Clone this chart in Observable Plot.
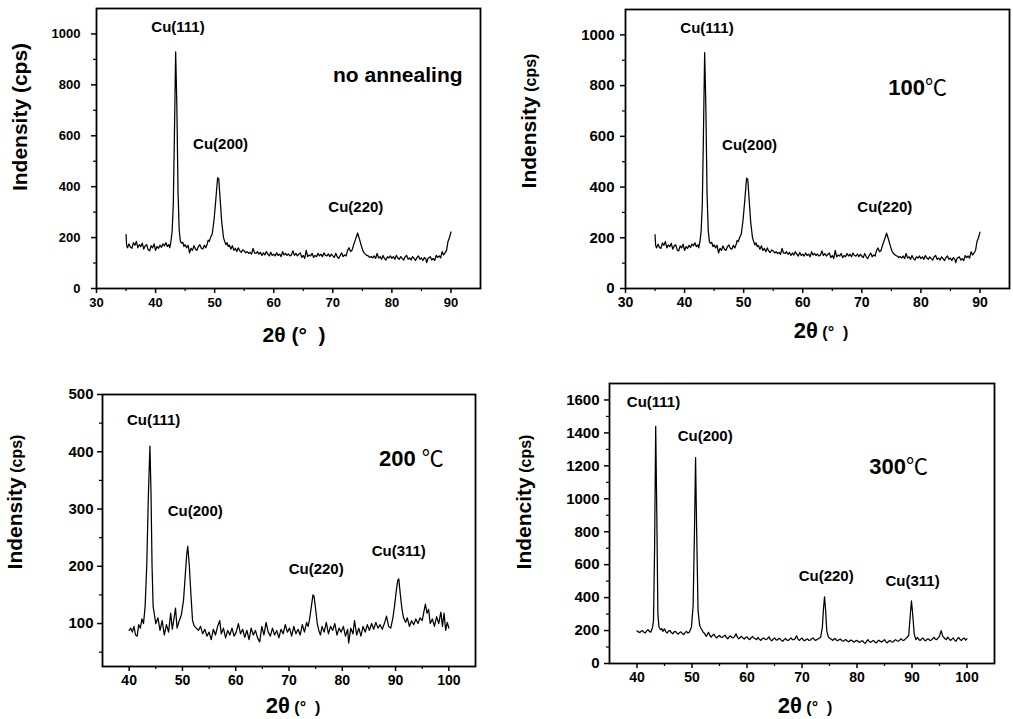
<!DOCTYPE html>
<html><head><meta charset="utf-8">
<script src="https://cdn.jsdelivr.net/npm/d3@7"></script>
<script src="https://cdn.jsdelivr.net/npm/@observablehq/plot@0.6"></script>
<style>
body{margin:0;background:#fff;}
#wrap{position:relative;width:1013px;height:719px;overflow:hidden;font-family:"Liberation Sans",Arial,sans-serif;}
#wrap svg{position:absolute;}
</style></head><body><div id="wrap"></div>
<script>
// 2θ (°), intensity (cps) — as-deposited film; the 100℃ scan is the same trace
const patternNoAnneal = [
[35,212],[35.1,170],[35.25,160],[35.5,175],[35.75,162],[36,158],[36.25,180],[36.5,170],[36.75,185],[37,160],
[37.25,172],[37.5,165],[37.75,178],[38,155],[38.25,168],[38.5,172],[38.75,152],[39,148],[39.25,168],[39.5,160],
[39.75,175],[40,150],[40.25,165],[40.5,158],[40.75,170],[41,162],[41.25,175],[41.5,168],[41.75,180],[42,165],
[42.25,172],[42.4,160],[42.6,185],[42.8,225],[43,330],[43.2,620],[43.4,930],[43.6,720],[43.8,380],[44,230],
[44.2,185],[44.4,178],[44.6,182],[44.8,165],[45,172],[45.25,160],[45.5,170],[45.75,140],[46,158],[46.25,150],
[46.5,168],[46.75,155],[47,150],[47.25,165],[47.5,172],[47.75,158],[48,155],[48.25,170],[48.5,160],[48.75,175],
[48.9,190],[49.1,185],[49.3,200],[49.6,215],[49.9,270],[50.2,350],[50.5,435],[50.7,430],[50.9,360],[51.2,260],
[51.5,200],[51.7,185],[51.9,172],[52.1,180],[52.3,165],[52.5,170],[52.75,155],[53,168],[53.25,150],[53.5,158],
[53.75,145],[54,160],[54.25,148],[54.5,142],[54.75,152],[55,148],[55.25,140],[55.5,145],[55.75,138],[56,142],
[56.25,135],[56.5,158],[56.75,140],[57,138],[57.25,145],[57.5,135],[57.75,142],[58,130],[58.25,140],[58.5,132],
[58.75,145],[59,135],[59.25,128],[59.5,142],[59.75,130],[60,135],[60.25,128],[60.5,140],[60.75,130],[61,135],
[61.25,125],[61.5,145],[61.75,132],[62,138],[62.25,130],[62.5,136],[62.75,128],[63,132],[63.25,148],[63.5,130],
[63.75,138],[64,128],[64.25,135],[64.5,140],[64.75,122],[65,130],[65.25,118],[65.5,150],[65.75,125],[66,132],
[66.25,128],[66.5,138],[66.75,122],[67,130],[67.25,125],[67.5,138],[67.75,128],[68,135],[68.25,125],[68.5,140],
[68.75,130],[69,128],[69.25,136],[69.5,125],[69.75,135],[70,128],[70.25,122],[70.5,138],[70.75,125],[71,118],
[71.25,130],[71.5,140],[71.75,125],[72,132],[72.25,128],[72.5,150],[72.75,160],[73,145],[73.25,150],[73.5,170],
[73.8,190],[74.2,218],[74.5,195],[74.8,170],[75.1,148],[75.3,140],[75.5,135],[75.75,130],[76,128],[76.25,122],
[76.5,126],[76.75,120],[77,128],[77.25,118],[77.5,138],[77.75,120],[78,125],[78.25,115],[78.5,130],[78.75,118],
[79,112],[79.25,125],[79.5,120],[79.75,128],[80,118],[80.25,125],[80.5,115],[80.75,130],[81,120],[81.25,115],
[81.5,125],[81.75,118],[82,112],[82.25,125],[82.5,130],[82.75,115],[83,120],[83.25,112],[83.5,125],[83.75,118],
[84,110],[84.25,122],[84.5,128],[84.75,115],[85,120],[85.25,110],[85.5,122],[85.75,115],[85.9,102],[86.1,118],
[86.5,125],[86.75,112],[87,118],[87.25,110],[87.5,130],[87.75,122],[88,128],[88.25,120],[88.5,145],[88.75,132],
[89,140],[89.25,150],[89.5,185],[89.75,200],[90,222]
];
const pattern200 = [
[40,88],[40.3,92],[40.6,85],[40.9,95],[41.2,80],[41.5,78],[41.8,98],[42.1,92],[42.4,108],[42.7,100],[43,130],
[43.3,200],[43.6,320],[43.9,410],[44.1,330],[44.3,200],[44.5,130],[44.7,118],[45,100],[45.4,110],[45.8,88],
[46.2,105],[46.6,80],[47,98],[47.4,85],[47.8,118],[48.1,90],[48.4,108],[48.7,127],[49,92],[49.4,105],[49.8,115],
[50.2,140],[50.5,180],[50.8,220],[51,235],[51.3,200],[51.6,150],[51.9,105],[52.2,96],[52.6,92],[53,88],[53.4,95],
[53.8,82],[54.2,90],[54.6,78],[55,85],[55.4,72],[55.8,90],[56.2,80],[56.6,95],[57,105],[57.3,82],[57.7,92],
[58.1,75],[58.5,88],[58.9,80],[59.3,92],[59.7,78],[60.1,85],[60.5,100],[60.9,82],[61.3,90],[61.7,76],[62.1,88],
[62.5,72],[62.9,92],[63.3,80],[63.7,88],[64.1,75],[64.5,68],[64.9,95],[65.3,80],[65.7,102],[66.1,85],[66.5,78],
[66.9,92],[67.3,80],[67.7,88],[68.1,75],[68.5,90],[68.9,82],[69.3,98],[69.7,85],[70.1,92],[70.5,78],[70.9,95],
[71.3,82],[71.7,90],[72.1,80],[72.5,98],[72.9,85],[73.3,102],[73.6,95],[73.9,110],[74.2,130],[74.5,150],
[74.7,148],[75,125],[75.3,100],[75.6,88],[75.9,80],[76.2,95],[76.6,85],[77,102],[77.4,82],[77.8,95],[78.2,88],
[78.6,100],[79,80],[79.4,92],[79.8,85],[80.2,95],[80.6,78],[81,90],[81.2,66],[81.6,92],[82,82],[82.3,105],
[82.7,80],[83.1,92],[83.5,78],[83.9,95],[84.3,85],[84.7,98],[85.1,88],[85.5,100],[85.9,90],[86.3,102],[86.7,92],
[87.1,98],[87.5,90],[87.9,100],[88.3,113],[88.7,95],[89.1,92],[89.5,110],[89.8,130],[90.1,155],[90.4,175],
[90.6,178],[90.9,150],[91.2,125],[91.5,110],[91.9,102],[92.2,110],[92.6,95],[93,105],[93.4,98],[93.8,108],
[94.2,100],[94.6,110],[95,105],[95.3,120],[95.6,134],[95.9,118],[96.2,125],[96.5,100],[96.9,108],[97.3,95],
[97.7,112],[98.1,100],[98.5,120],[98.8,95],[99.1,118],[99.4,88],[99.7,102],[100,92]
];
const pattern300 = [
[40,198],[40.25,192],[40.5,188],[40.75,196],[41,200],[41.25,190],[41.5,185],[41.75,198],[42,205],[42.25,195],
[42.5,190],[42.8,215],[43,260],[43.2,700],[43.4,1440],[43.6,900],[43.8,300],[44,220],[44.3,205],[44.5,212],
[44.7,195],[45,210],[45.25,192],[45.5,185],[45.75,198],[46,200],[46.25,188],[46.5,180],[46.75,192],[47,195],
[47.25,185],[47.5,178],[47.75,188],[48,192],[48.25,182],[48.5,175],[48.75,188],[49,195],[49.25,185],[49.5,190],
[49.9,220],[50.2,350],[50.45,800],[50.65,1250],[50.85,800],[51.1,320],[51.4,230],[51.6,215],[51.8,205],
[52,192],[52.2,185],[52.4,175],[52.6,165],[52.8,178],[53,190],[53.25,170],[53.5,160],[53.75,172],[54,178],
[54.25,162],[54.5,155],[54.75,165],[55,170],[55.25,160],[55.5,158],[55.75,166],[56,172],[56.25,158],[56.5,150],
[56.75,162],[57,168],[57.25,158],[57.5,155],[57.75,165],[58,180],[58.25,160],[58.5,150],[58.75,158],[59,165],
[59.25,155],[59.5,148],[59.75,158],[60,162],[60.25,150],[60.5,145],[60.75,155],[61,165],[61.25,155],[61.5,150],
[61.75,145],[62,158],[62.25,148],[62.5,140],[62.75,150],[63,155],[63.25,148],[63.5,145],[63.75,152],[64,162],
[64.25,145],[64.5,138],[64.75,148],[65,155],[65.25,145],[65.5,142],[65.75,152],[66,150],[66.25,140],[66.5,135],
[66.75,145],[67,152],[67.25,142],[67.5,140],[67.75,148],[68,155],[68.25,145],[68.5,145],[68.75,150],[69,168],
[69.25,150],[69.5,140],[69.75,148],[70,155],[70.25,142],[70.5,138],[70.75,146],[71,150],[71.25,140],[71.5,142],
[71.75,150],[72,155],[72.25,145],[72.5,140],[72.75,148],[73,150],[73.4,160],[73.7,220],[73.9,330],[74.1,405],
[74.3,320],[74.5,200],[74.8,160],[75,155],[75.2,150],[75.4,145],[75.6,140],[75.8,148],[76,152],[76.25,142],
[76.5,138],[76.75,145],[77,148],[77.25,138],[77.5,135],[77.75,142],[78,145],[78.25,136],[78.5,132],[78.75,140],
[79,142],[79.25,134],[79.5,130],[79.75,138],[80,140],[80.25,132],[80.5,128],[80.75,136],[81,138],[81.25,128],
[81.5,122],[81.75,135],[82,145],[82.25,132],[82.5,128],[82.75,136],[83,140],[83.25,130],[83.5,125],[83.75,135],
[84,142],[84.25,134],[84.5,130],[84.75,138],[85,145],[85.25,132],[85.5,125],[85.75,135],[86,140],[86.25,132],
[86.5,130],[86.75,138],[87,145],[87.25,138],[87.5,135],[87.75,142],[88,150],[88.25,142],[88.5,140],[88.75,148],
[89,155],[89.4,170],[89.7,300],[89.9,380],[90.1,310],[90.4,180],[90.7,145],[91,158],[91.25,145],[91.5,140],
[91.75,150],[92,155],[92.25,142],[92.5,138],[92.75,148],[93,150],[93.25,140],[93.5,142],[93.75,150],[94,158],
[94.25,148],[94.5,145],[94.75,155],[95,165],[95.3,200],[95.6,165],[95.8,158],[96,150],[96.25,145],[96.5,160],
[96.75,150],[97,140],[97.25,148],[97.5,155],[97.75,142],[98,135],[98.25,150],[98.5,158],[98.75,145],[99,140],
[99.25,150],[99.5,155],[99.75,142],[100,150]
];

// peak labels: [text, 2θ, intensity]
const peakLabelsTop = [["Cu(111)",43.8,1027],["Cu(200)",51.0,566],["Cu(220)",73.9,319]];
const peakLabels200 = [["Cu(111)",44.6,456],["Cu(200)",52.4,297],["Cu(220)",75.1,195],["Cu(311)",90.6,227]];
const peakLabels300 = [["Cu(111)",43.0,1584],["Cu(200)",52.4,1382],["Cu(220)",74.4,532],["Cu(311)",90.1,502]];

// tick values
const xTicksTop = [30,40,50,60,70,80,90];
const xMinorTop = [35,45,55,65,75,85];
const yTicksTop = [0,200,400,600,800,1000];
const yMinorTop = [100,300,500,700,900];
const xTicksBottom = [40,50,60,70,80,90,100];
const xMinorBottom = [45,55,65,75,85,95];
const yTicks200 = [100,200,300,400,500];
const yMinor200 = [50,150,250,350,450];
const yTicks300 = [0,200,400,600,800,1000,1200,1400,1600];
const yMinor300 = [100,300,500,700,900,1100,1300,1500];

const FONT = '"Liberation Sans", Arial, Helvetica, sans-serif';
const wrap = document.getElementById("wrap");

function panel(o) {
  const marks = [
    Plot.frame({stroke: "black", strokeWidth: 1.8}),
    Plot.axisX({ticks: o.xTicks, tickSize: 5, tickPadding: 4, tickFormat: d3.format("d"), fontSize: o.tickFont, fontWeight: "bold", label: null, strokeWidth: 1.5}),
    Plot.axisX({ticks: o.xMinor, tickSize: 3, text: null, label: null, strokeWidth: 1.2}),
    Plot.axisY({ticks: o.yTicks, tickSize: 5, tickPadding: o.yPad, tickFormat: d3.format("d"), fontSize: o.yTickFont, fontWeight: "bold", label: null, strokeWidth: 1.5}),
    Plot.axisY({ticks: o.yMinor, tickSize: 3, text: null, label: null, strokeWidth: 1.2}),
    Plot.line(o.data, {x: d => d[0], y: d => d[1], stroke: "black", strokeWidth: 1.25}),
    Plot.text(o.peaks, {x: d => d[1], y: d => d[2], text: d => d[0], fontSize: 15, fontWeight: "bold", fill: "black"})
  ];
  if (o.cond.unit) {
    marks.push(Plot.text([o.cond], {x: "x", y: "y", text: "num", textAnchor: "end", fontSize: 22, fontWeight: "bold", fill: "black"}));
    marks.push(Plot.text([o.cond], {x: "x", y: "y", text: "unit", textAnchor: "start", dx: o.cond.dx, fontSize: 22, fontWeight: "normal", fontFamily: '"Noto Sans CJK SC", "DejaVu Sans", sans-serif', fill: "black"}));
  } else {
    marks.push(Plot.text([o.cond], {x: "x", y: "y", text: "num", fontSize: 21, fontWeight: "bold", fill: "black"}));
  }
  const svg = Plot.plot({
    width: o.width, height: o.height,
    marginLeft: o.ml, marginRight: o.mr, marginTop: o.mt, marginBottom: o.mb,
    x: {domain: o.xDomain, label: null},
    y: {domain: o.yDomain, label: null},
    style: {fontFamily: FONT, background: "transparent", color: "black", overflow: "visible"},
    marks
  });
  svg.style.left = o.left + "px";
  svg.style.top = o.top + "px";
  const s = d3.select(svg);
  // y-axis title
  const yt = s.append("text")
    .attr("transform", `translate(${o.yTitle.x},${o.yTitle.y}) rotate(-90)`)
    .attr("dy", "0.36em").attr("text-anchor", "middle")
    .attr("font-weight", "bold").attr("fill", "black").style("white-space", "pre");
  yt.append("tspan").attr("font-size", 21).text(o.yTitle.main);
  yt.append("tspan").attr("font-size", o.yTitle.subSize).text(" (cps)");
  // x-axis title
  const xt = s.append("text")
    .attr("x", o.xTitle.x).attr("y", o.xTitle.y).attr("text-anchor", "middle")
    .attr("font-weight", "bold").attr("fill", "black").style("white-space", "pre");
  xt.append("tspan").attr("font-size", o.xTitle.mainSize).text("2θ");
  xt.append("tspan").attr("font-size", o.xTitle.subSize).text(" (°  )");
  wrap.appendChild(svg);
}

panel({left: 0, top: 0, width: 500, height: 355, ml: 96, mr: 20, mt: 8, mb: 67,
  xDomain: [30, 95], yDomain: [0, 1100], xTicks: xTicksTop, xMinor: xMinorTop, yTicks: yTicksTop, yMinor: yMinorTop,
  tickFont: 13, yTickFont: 13, yPad: 11, data: patternNoAnneal, peaks: peakLabelsTop,
  cond: {x: 81, y: 837, num: "no annealing"},
  yTitle: {x: 23, y: 117, main: "Indensity", subSize: 21},
  xTitle: {x: 294, y: 342, mainSize: 21, subSize: 21}});

panel({left: 500, top: 0, width: 513, height: 355, ml: 125, mr: 4, mt: 9, mb: 67,
  xDomain: [30, 95], yDomain: [0, 1100], xTicks: xTicksTop, xMinor: xMinorTop, yTicks: yTicksTop, yMinor: yMinorTop,
  tickFont: 14, yTickFont: 15, yPad: 6, data: patternNoAnneal, peaks: peakLabelsTop,
  cond: {x: 80.7, y: 791, num: "100", unit: "℃", dx: 0},
  yTitle: {x: 32, y: 121, main: "Indensity", subSize: 16},
  xTitle: {x: 321, y: 338, mainSize: 22, subSize: 16}});

panel({left: 0, top: 380, width: 500, height: 339, ml: 102, mr: 25, mt: 14, mb: 53,
  xDomain: [35, 105], yDomain: [25, 500], xTicks: xTicksBottom, xMinor: xMinorBottom, yTicks: yTicks200, yMinor: yMinor200,
  tickFont: 14, yTickFont: 15, yPad: 4, data: pattern200, peaks: peakLabels200,
  cond: {x: 93.8, y: 388, num: "200", unit: "℃", dx: 6},
  yTitle: {x: 18, y: 122, main: "Indensity", subSize: 16},
  xTitle: {x: 293, y: 333, mainSize: 22, subSize: 16}});

panel({left: 500, top: 380, width: 513, height: 339, ml: 109, mr: 19, mt: 3, mb: 56,
  xDomain: [35, 105], yDomain: [0, 1700], xTicks: xTicksBottom, xMinor: xMinorBottom, yTicks: yTicks300, yMinor: yMinor300,
  tickFont: 14, yTickFont: 15, yPad: 5, data: pattern300, peaks: peakLabels300,
  cond: {x: 88.9, y: 1194, num: "300", unit: "℃", dx: 0},
  yTitle: {x: 27, y: 122, main: "Indencity", subSize: 16},
  xTitle: {x: 305, y: 333, mainSize: 22, subSize: 16}});
</script></body></html>
